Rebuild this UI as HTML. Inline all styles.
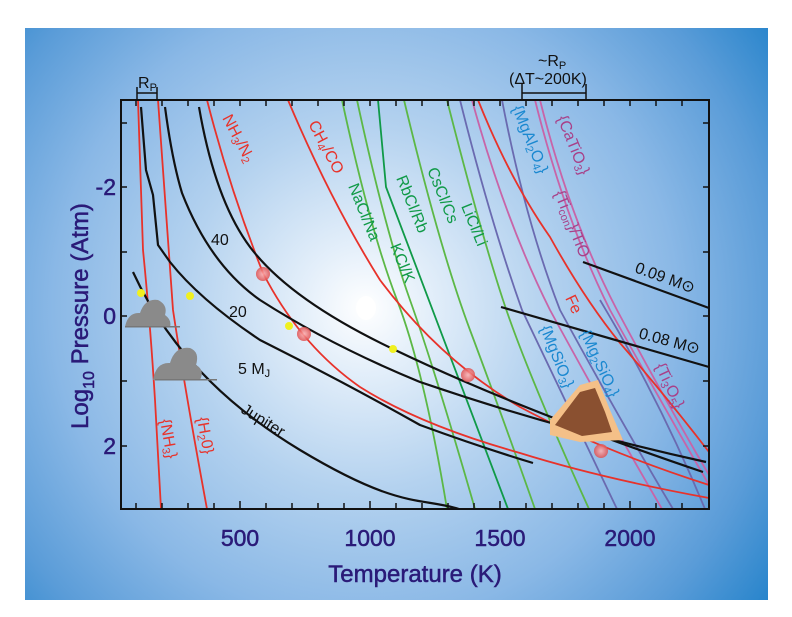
<!DOCTYPE html>
<html><head><meta charset="utf-8"><style>
body{margin:0;background:#fff;}
svg text{font-family:"Liberation Sans",sans-serif;}
</style></head><body>
<svg width="792" height="612" viewBox="0 0 792 612" xmlns="http://www.w3.org/2000/svg">
<defs>
<radialGradient id="bg" cx="365" cy="308" r="520" gradientUnits="userSpaceOnUse">
<stop offset="0" stop-color="#ffffff"/>
<stop offset="0.12" stop-color="#e4effa"/>
<stop offset="0.35" stop-color="#b4d2ef"/>
<stop offset="0.6" stop-color="#8ab8e6"/>
<stop offset="0.8" stop-color="#5a9cd8"/>
<stop offset="1" stop-color="#1a7ec8"/>
</radialGradient>
<radialGradient id="rc"><stop offset="0" stop-color="#ffb0b0"/><stop offset="1" stop-color="#e05050"/></radialGradient>
</defs>
<rect x="0" y="0" width="792" height="612" fill="#fff"/>
<rect x="25" y="28" width="743" height="572" fill="url(#bg)"/>
<ellipse cx="366" cy="308" rx="10" ry="12" fill="#fff"/>

<g fill="none" stroke-width="1.8">
<path d="M342,100 Q370,230 397,300 T447,509" stroke="#5cb846"/>
<path d="M357,100 Q385,230 410,300 T475,509" stroke="#5cb846"/>
<path d="M378,100 L386,187 Q440,330 508,509" stroke="#109a48"/>
<path d="M404,100 Q440,250 470,330 T535,509" stroke="#5cb846"/>
<path d="M447,100 Q480,230 503,300 T589,509" stroke="#5cb846"/>
<path d="M460,100 Q490,220 522,310 Q575,420 617,509" stroke="#6a6ab0"/>
<path d="M472,100 Q505,220 550,310 Q610,420 662,509" stroke="#c864a8"/>
<path d="M502,100 Q525,220 560,310 Q620,420 673,509" stroke="#6a6ab0"/>
<path d="M535,100 Q565,220 610,310 Q660,400 709,485" stroke="#c864a8"/>
<path d="M540,100 Q570,220 617,310 Q665,400 709,475" stroke="#c864a8"/>
<path d="M600,300 Q660,400 705,509" stroke="#6a6ab0"/>
<path d="M138,100 L143,250 Q150,320 155,400 L161,509" stroke="#e8322a"/>
<path d="M158,100 L173,310 Q185,390 207,509" stroke="#e8322a"/>
<path d="M207,100 Q230,190 263,273 Q300,345 360,387 Q420,425 520,453 Q600,478 709,498" stroke="#e8322a"/>
<path d="M288,100 Q330,200 380,280 Q440,360 520,407 Q600,450 709,485" stroke="#e8322a"/>
<path d="M478,100 Q510,180 550,237 Q585,300 620,343 Q665,395 709,452" stroke="#e8322a"/>
</g>
<g fill="none" stroke="#111" stroke-width="2.2">
<path d="M133,272 C155,320 200,390 300,450 S420,497 459,509"/>
<path d="M141,107 L146,170 L153,195 L158,245 L170,262 Q200,300 260,340 Q340,380 420,425 Q480,447 533,463"/>
<path d="M165,107 Q172,160 182,193 Q210,265 260,300 Q330,345 420,382 Q560,430 706,462"/>
<path d="M199,107 Q215,200 250,247 Q290,300 393,349 Q520,410 703,472"/>
<path d="M501,307 L709,367"/>
<path d="M583,262 L709,308"/>
</g>
<g fill="#8a8a8a"><path d="M125,327 Q128,312 140,313 Q145,298 158,300 Q168,305 165,315 Q172,320 170,327 Z"/>
<path d="M153,380 Q156,362 170,363 Q175,346 190,348 Q200,352 196,365 Q205,370 200,380 Z"/></g>
<rect x="125" y="326" width="55" height="1.5" fill="#777"/><rect x="155" y="379" width="62" height="1.5" fill="#777"/>
<path d="M550,420 L580,385 L598,380 L610,410 L623,440 L580,442 L550,435 Z" fill="#f4c088"/>
<path d="M555,425 L580,392 L595,388 L605,412 L612,432 L582,436 Z" fill="#8a5030"/>
<g fill="url(#rc)" opacity="0.85"><circle cx="263" cy="274" r="7"/><circle cx="304" cy="334" r="7"/><circle cx="468" cy="375" r="7"/><circle cx="601" cy="451" r="7"/></g>
<g fill="#f0f020"><circle cx="141" cy="293" r="4"/><circle cx="190" cy="296" r="4"/><circle cx="289" cy="326" r="4"/><circle cx="393" cy="349" r="4"/></g>

<rect x="121" y="100" width="588" height="409" fill="none" stroke="#111" stroke-width="2"/>
<g stroke="#111" stroke-width="1.5">
<path d="M136,509v-6M162,509v-6M188,509v-6M214,509v-6M240,509v-8M266,509v-6M292,509v-6M318,509v-6M344,509v-6M370,509v-8M396,509v-6M422,509v-6M448,509v-6M474,509v-6M500,509v-8M526,509v-6M552,509v-6M578,509v-6M604,509v-6M630,509v-8M656,509v-6M682,509v-6"/>
<path d="M136,100v6M162,100v6M188,100v6M214,100v6M240,100v6M266,100v6M292,100v6M318,100v6M344,100v6M370,100v6M396,100v6M422,100v6M448,100v6M474,100v6M500,100v6M526,100v6M552,100v6M578,100v6M604,100v6M630,100v6M656,100v6M682,100v6"/>
<path d="M121,123h6M121,187h6M121,252h6M121,316h6M121,381h6M121,446h6M709,123h-6M709,187h-6M709,252h-6M709,316h-6M709,381h-6M709,446h-6"/>
<path d="M137,100v-13M157,100v-13M137,93h20M522,100v-16M586,100v-16M522,93h64"/>
</g>
<g fill="#2a1a78" font-size="23" stroke="#2a1a78" stroke-width="0.5">
<text x="240" y="546" text-anchor="middle">500</text><text x="370" y="546" text-anchor="middle">1000</text><text x="500" y="546" text-anchor="middle">1500</text><text x="630" y="546" text-anchor="middle">2000</text>
<text x="116" y="195" text-anchor="end">-2</text><text x="116" y="324" text-anchor="end">0</text><text x="116" y="454" text-anchor="end">2</text>
<text x="415" y="582" text-anchor="middle" font-size="24">Temperature  (K)</text>
<text transform="translate(88,316) rotate(-90)" text-anchor="middle" font-size="24">Log<tspan font-size="16" dy="6">10</tspan><tspan dy="-6"> Pressure  (Atm)</tspan></text>
</g>
<g fill="#111" font-size="16">
<text x="138" y="88">R<tspan font-size="11" dy="3">P</tspan></text>
<text x="538" y="66">~R<tspan font-size="11" dy="3">P</tspan></text>
<text x="509" y="84">(ΔT~200K)</text>
<text x="211" y="245">40</text><text x="229" y="317">20</text>
<text x="238" y="374">5 M<tspan font-size="11" dy="3">J</tspan></text>
<text transform="translate(240,412) rotate(32)">Jupiter</text>
<text transform="translate(634,272) rotate(20)">0.09 M⊙</text>
<text transform="translate(638,338) rotate(15)">0.08 M⊙</text>
</g>
<g fill="#e8322a" font-size="16">
<text transform="translate(222,118) rotate(62)">NH<tspan font-size="11" dy="3">3</tspan><tspan dy="-3">/N</tspan><tspan font-size="11" dy="3">2</tspan></text>
<text transform="translate(308,124) rotate(62)">CH<tspan font-size="11" dy="3">4</tspan><tspan dy="-3">/CO</tspan></text>
<text transform="translate(565,298) rotate(65)">Fe</text>
<text transform="translate(160,420) rotate(80)">{NH<tspan font-size="11" dy="3">3</tspan><tspan dy="-3">}</tspan></text>
<text transform="translate(197,418) rotate(80)">{H<tspan font-size="11" dy="3">2</tspan><tspan dy="-3">0}</tspan></text>
</g>
<g fill="#109a48" font-size="16">
<text transform="translate(348,186) rotate(68)">NaCl/Na</text>
<text transform="translate(396,178) rotate(68)">RbCl/Rb</text>
<text transform="translate(427,170) rotate(68)">CsCl/Cs</text>
<text transform="translate(390,246) rotate(68)">KCl/K</text>
<text transform="translate(461,206) rotate(68)">LiCl/Li</text>
</g>
<g fill="#1a88d0" font-size="16">
<text transform="translate(512,108) rotate(68)">{MgAl<tspan font-size="11" dy="3">2</tspan><tspan dy="-3">O</tspan><tspan font-size="11" dy="3">4</tspan><tspan dy="-3">}</tspan></text>
<text transform="translate(540,328) rotate(68)">{MgSiO<tspan font-size="11" dy="3">3</tspan><tspan dy="-3">}</tspan></text>
<text transform="translate(580,333) rotate(65)">{Mg<tspan font-size="11" dy="3">2</tspan><tspan dy="-3">SiO</tspan><tspan font-size="11" dy="3">4</tspan><tspan dy="-3">}</tspan></text>
</g>
<g fill="#a84088" font-size="16">
<text transform="translate(557,118) rotate(68)">{CaTiO<tspan font-size="11" dy="3">3</tspan><tspan dy="-3">}</tspan></text>
<text transform="translate(554,193) rotate(68)">{Ti<tspan font-size="11" dy="3">con</tspan><tspan dy="-3">}/TiO</tspan></text>
<text transform="translate(655,366) rotate(65)">{Ti<tspan font-size="11" dy="3">3</tspan><tspan dy="-3">O</tspan><tspan font-size="11" dy="3">5</tspan><tspan dy="-3">}</tspan></text>
</g>
</svg>
</body></html>
